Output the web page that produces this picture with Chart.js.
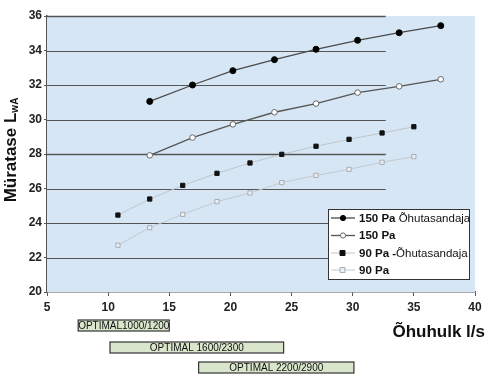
<!DOCTYPE html>
<html>
<head>
<meta charset="utf-8">
<script src="https://cdn.jsdelivr.net/npm/chart.js@4.4.1/dist/chart.umd.min.js"></script>
<style>
  body { margin: 0; background: #fff; }
  #wrap { width: 491px; height: 386px; }
</style>
</head>
<body>
<div id="wrap"><canvas id="myChart" width="491" height="386"></canvas></div>
<script>
// data
const labels = ['150 Pa Õhutasandaja', '150 Pa', '90 Pa -Õhutasandaja', '90 Pa'];
const flow150 = [13.4, 16.9, 20.2, 23.6, 27.0, 30.4, 33.8, 37.2];
const noise150damper = [31.05, 32.0, 32.83, 33.47, 34.07, 34.59, 35.03, 35.44];
const noise150 = [27.92, 28.95, 29.72, 30.42, 30.92, 31.56, 31.92, 32.33];
const flow90 = [10.8, 13.4, 16.1, 18.9, 21.6, 24.2, 27.0, 29.7, 32.4, 35.0];
const noise90damper = [24.46, 25.39, 26.18, 26.88, 27.48, 27.98, 28.45, 28.85, 29.22, 29.58];
const noise90 = [22.71, 23.73, 24.5, 25.24, 25.74, 26.34, 26.76, 27.11, 27.52, 27.85];
const yTicks = [20, 22, 24, 26, 28, 30, 32, 34, 36];
const xTicks = [5, 10, 15, 20, 25, 30, 35, 40];

// product ranges shown under the x axis
const rangeNames = ['OPTIMAL1000/1200', 'OPTIMAL 1600/2300', 'OPTIMAL 2200/2900'];
const rangeFrom = [7.55, 10.15, 17.4];
const rangeTo = [15.0, 24.35, 30.1];

const pts = (xs, ys) => xs.map((x, i) => ({ x: x, y: ys[i] }));
const FONT = '"Liberation Sans", Arial, sans-serif';

const ctx = document.getElementById('myChart');

const extras = {
  id: 'extras',
  beforeDatasetsDraw(chart) {
    const c = chart.ctx, a = chart.chartArea;
    const xs = chart.scales.x, ys = chart.scales.y;
    c.save();
    c.fillStyle = '#d6e6f5';
    c.fillRect(a.left, a.top, a.right - a.left, a.bottom - a.top);
    // grid lines stop short of the right edge in the original
    const gx = xs.getPixelForValue(32.7);
    c.strokeStyle = '#555';
    yTicks.forEach(t => {
      if (t === 20) return;
      const y = Math.round(ys.getPixelForValue(t)) + 0.5;
      c.lineWidth = (t === 28 || t === 36) ? 1.6 : 1.1;
      c.beginPath();
      c.moveTo(a.left, y);
      c.lineTo(gx, y);
      c.stroke();
    });
    c.restore();
  },
  afterDraw(chart) {
    const c = chart.ctx, xs = chart.scales.x;
    c.save();

    // y title with subscript
    c.translate(11, 150);
    c.rotate(-Math.PI / 2);
    c.fillStyle = '#111';
    c.textBaseline = 'middle';
    c.font = 'bold 17px ' + FONT;
    const main = 'Müratase L';
    c.font = 'bold 17px ' + FONT;
    const w1 = c.measureText(main).width;
    c.font = 'bold 10px ' + FONT;
    const w2 = c.measureText('wA').width;
    const start = -(w1 + w2) / 2;
    c.font = 'bold 17px ' + FONT;
    c.textAlign = 'left';
    c.fillText(main, start, 0);
    c.font = 'bold 10px ' + FONT;
    c.fillText('wA', start + w1, 4);
    c.setTransform(1, 0, 0, 1, 0, 0);

    // x title
    c.font = 'bold 17px ' + FONT;
    c.textAlign = 'right';
    c.textBaseline = 'alphabetic';
    c.fillText('Õhuhulk l/s', 485, 337);

    // range boxes
    const boxY = [320, 342, 362];
    rangeNames.forEach((name, i) => {
      const x0 = xs.getPixelForValue(rangeFrom[i]);
      const x1 = xs.getPixelForValue(rangeTo[i]);
      c.fillStyle = '#d9e6cc';
      c.fillRect(x0, boxY[i], x1 - x0, 11);
      c.strokeStyle = '#333';
      c.lineWidth = 1.2;
      c.strokeRect(x0, boxY[i], x1 - x0, 11);
      c.fillStyle = '#111';
      c.font = '10px ' + FONT;
      c.textAlign = 'center';
      c.textBaseline = 'middle';
      c.fillText(name, (x0 + x1) / 2, boxY[i] + 6);
    });

    // legend box
    const lx = 328, ly = 209, lw = 141, lh = 70;
    c.fillStyle = '#fff';
    c.fillRect(lx, ly, lw, lh);
    c.strokeStyle = '#333';
    c.lineWidth = 1;
    c.strokeRect(lx + 0.5, ly + 0.5, lw, lh);
    const rowY = [218, 235.5, 253, 270];
    chart.data.datasets.forEach((ds, i) => {
      const y = rowY[i];
      c.strokeStyle = ds.borderColor;
      c.lineWidth = ds.borderWidth;
      c.beginPath();
      c.moveTo(331, y);
      c.lineTo(355, y);
      c.stroke();
      c.fillStyle = ds.pointBackgroundColor;
      c.strokeStyle = ds.pointBorderColor;
      c.lineWidth = 1;
      c.beginPath();
      if (ds.pointStyle === 'rect') c.rect(340, y - 2.5, 5, 5);
      else c.arc(343, y, 2.6, 0, Math.PI * 2);
      c.fill();
      c.stroke();
      const lab = ds.label;
      const k = lab.indexOf('Õhutasandaja');
      const boldPart = k >= 0 ? lab.slice(0, k) : lab;
      const rest = k >= 0 ? lab.slice(k) : '';
      c.fillStyle = '#111';
      c.textAlign = 'left';
      c.textBaseline = 'middle';
      c.font = 'bold 11.5px ' + FONT;
      c.fillText(boldPart, 359, y + 0.5);
      const bw = c.measureText(boldPart).width;
      c.font = '11.5px ' + FONT;
      c.fillText(rest, 359 + bw, y + 0.5);
    });
    c.restore();
  }
};

new Chart(ctx, {
  type: 'line',
  data: {
    datasets: [{
      label: labels[0],
      data: pts(flow150, noise150damper),
      borderColor: '#4a4a4a',
      borderWidth: 1.3,
      pointStyle: 'circle',
      pointRadius: 3,
      pointBackgroundColor: '#000',
      pointBorderColor: '#000',
      pointBorderWidth: 1
    }, {
      label: labels[1],
      data: pts(flow150, noise150),
      borderColor: '#555',
      borderWidth: 1.3,
      pointStyle: 'circle',
      pointRadius: 2.8,
      pointBackgroundColor: '#fff',
      pointBorderColor: '#666',
      pointBorderWidth: 1
    }, {
      label: labels[2],
      data: pts(flow90, noise90damper),
      borderColor: '#bfc6cc',
      borderWidth: 1,
      pointStyle: 'rect',
      pointRadius: 3,
      pointBackgroundColor: '#111',
      pointBorderColor: '#111',
      pointBorderWidth: 1
    }, {
      label: labels[3],
      data: pts(flow90, noise90),
      borderColor: '#c4cacf',
      borderWidth: 1,
      pointStyle: 'rect',
      pointRadius: 3,
      pointBackgroundColor: '#e8eef3',
      pointBorderColor: '#a8adb2',
      pointBorderWidth: 1
    }]
  },
  options: {
    responsive: false,
    animation: false,
    layout: { padding: { top: 16, right: 16, left: 0, bottom: 0 } },
    plugins: { legend: { display: false }, tooltip: { enabled: false } },
    scales: {
      x: {
        type: 'linear',
        min: 5, max: 40,
        afterBuildTicks: s => { s.ticks = xTicks.map(v => ({ value: v })); },
        afterFit: s => { s.height = 94; },
        border: { display: true, color: '#555', width: 1.5 },
        grid: { drawOnChartArea: false, drawTicks: true, tickLength: 4, color: '#555' },
        ticks: { color: '#222', padding: 4, font: { family: FONT, size: 12, weight: 'bold' } }
      },
      y: {
        min: 20, max: 36,
        afterBuildTicks: s => { s.ticks = yTicks.map(v => ({ value: v })); },
        afterFit: s => { s.width = 47; },
        border: { display: true, color: '#555', width: 1.5 },
        grid: { drawOnChartArea: false, drawTicks: true, tickLength: 3, color: '#555' },
        ticks: { color: '#222', padding: 2, font: { family: FONT, size: 12, weight: 'bold' } }
      }
    }
  },
  plugins: [extras]
});
</script>
</body>
</html>
